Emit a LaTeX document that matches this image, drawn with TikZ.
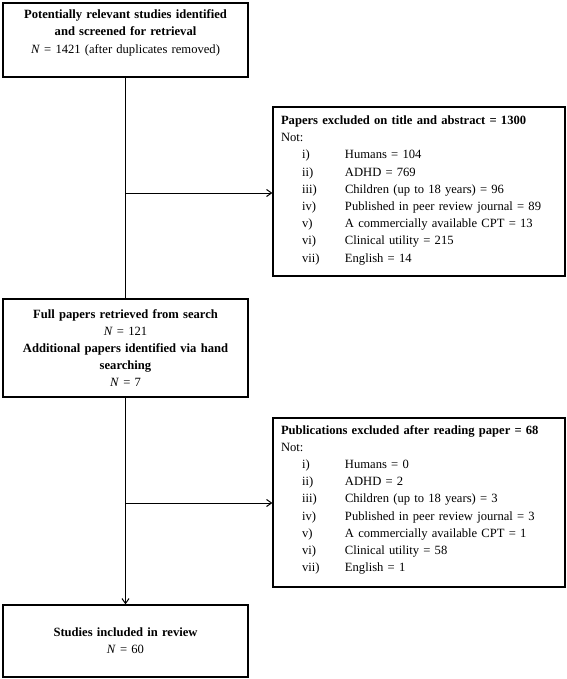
\documentclass[tikz,border=0pt]{standalone}
\usepackage{fontspec}
\setmainfont{Liberation Serif}
\usetikzlibrary{arrows.meta}
\newcommand{\itm}[2]{\hspace*{21pt}\makebox[43pt][l]{#1}#2}
\begin{document}
\begin{tikzpicture}[x=1pt,y=-1pt,
  box/.style={draw, line width=1.2pt, inner xsep=8pt, inner ysep=0pt,
    font=\fontsize{12.6}{17.2}\selectfont},
  mainbox/.style={box, minimum width=245pt, text width=229pt, align=center},
  exbox/.style={box, minimum width=292pt, minimum height=169pt, text width=276pt, align=left},
  conn/.style={line width=1pt},
  arr/.style={conn, -{Straight Barb[length=5pt,width=7pt]}}]
\useasboundingbox (0,0) rectangle (566,679);

\node[mainbox, minimum height=74pt] (b1) at (125.5,40)
  {\textbf{Potentially relevant studies identified}\\
   \textbf{and screened for retrieval}\\
   \textit{N} = 1421 (after duplicates removed)\\\mbox{}};

\node[exbox] (ex1) at (419,191.5)
  {\textbf{Papers excluded on title and abstract = 1300}\\
   Not:\\
   \itm{i)}{Humans = 104}\\
   \itm{ii)}{ADHD = 769}\\
   \itm{iii)}{Children (up to 18 years) = 96}\\
   \itm{iv)}{Published in peer review journal = 89}\\
   \itm{v)}{A commercially available CPT = 13}\\
   \itm{vi)}{Clinical utility = 215}\\
   \itm{vii)}{English = 14}\\[-12pt]\mbox{}};

\node[mainbox, minimum height=98pt] (b3) at (125.5,348)
  {\textbf{Full papers retrieved from search}\\
   \textit{N} = 121\\
   \textbf{Additional papers identified via hand}\\
   \textbf{searching}\\
   \textit{N} = 7};

\node[exbox] (ex2) at (419,502.5)
  {\textbf{Publications excluded after reading paper = 68}\\
   Not:\\
   \itm{i)}{Humans = 0}\\
   \itm{ii)}{ADHD = 2}\\
   \itm{iii)}{Children (up to 18 years) = 3}\\
   \itm{iv)}{Published in peer review journal = 3}\\
   \itm{v)}{A commercially available CPT = 1}\\
   \itm{vi)}{Clinical utility = 58}\\
   \itm{vii)}{English = 1}\\[-9pt]\mbox{}};

\node[mainbox, minimum height=72pt] (b5) at (125.5,641)
  {\textbf{Studies included in review}\\
   \textit{N} = 60};

\coordinate (j1) at (125.5,193);
\coordinate (j2) at (125.5,503);
\draw[conn] (b1.south) -- (b3.north);
\draw[arr] (j1) -- (j1 -| ex1.west);
\draw[arr] (b3.south) -- (b5.north);
\draw[arr] (j2) -- (j2 -| ex2.west);
\end{tikzpicture}
\end{document}
